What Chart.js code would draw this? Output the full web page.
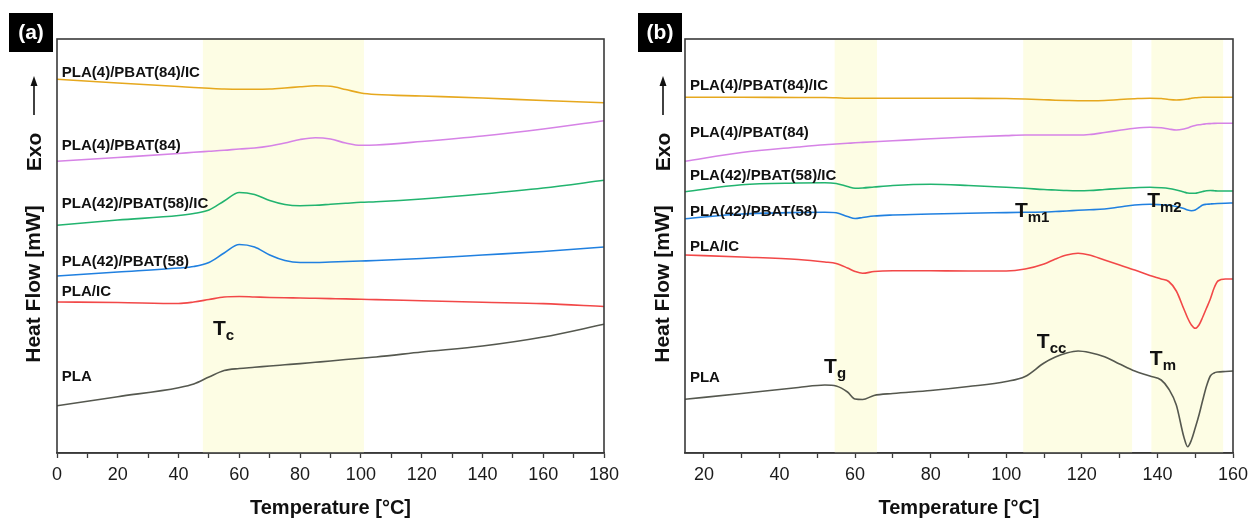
<!DOCTYPE html>
<html>
<head>
<meta charset="utf-8">
<script src="https://cdn.jsdelivr.net/npm/chart.js@4"></script>
<style>
  body { margin: 0; background: #fff; }
  #wrap { position: relative; width: 1249px; height: 523px; }
  canvas { position: absolute; top: 0; }
  #chartA { left: 0; }
  #chartB { left: 620px; }
</style>
</head>
<body>
<div id="wrap">
  <canvas id="chartA" width="620" height="523"></canvas>
  <canvas id="chartB" width="629" height="523"></canvas>
</div>
<script>
// (a) cooling scan, heat flow in arbitrary offset units
const tempA = [0, 20, 40, 45, 50, 55, 60, 65, 70, 75, 80, 85, 90, 95, 100, 105, 120, 140, 160, 180];
const pla4Pbat84IcA = [37.37, 37.0, 36.65, 36.55, 36.47, 36.4, 36.37, 36.37, 36.4, 36.5, 36.62, 36.72, 36.67, 36.35, 36.0, 35.85, 35.7, 35.5, 35.25, 35.03];
const pla4Pbat84A = [29.17, 29.55, 29.95, 30.07, 30.17, 30.27, 30.4, 30.5, 30.7, 31.0, 31.35, 31.53, 31.4, 31.0, 30.77, 30.8, 31.15, 31.7, 32.4, 33.23];
const pla42Pbat58IcA = [22.77, 23.3, 23.75, 23.95, 24.3, 25.2, 26.05, 25.85, 25.25, 24.85, 24.73, 24.77, 24.87, 24.97, 25.07, 25.13, 25.4, 25.9, 26.5, 27.27];
const pla42Pbat58A = [17.7, 18.1, 18.5, 18.65, 19.05, 20.0, 20.85, 20.6, 19.8, 19.25, 19.05, 19.05, 19.1, 19.15, 19.2, 19.25, 19.45, 19.8, 20.15, 20.6];
const plaIcA = [15.1, 15.05, 14.95, 15.1, 15.35, 15.6, 15.65, 15.6, 15.55, 15.52, 15.5, 15.47, 15.44, 15.41, 15.37, 15.34, 15.22, 15.07, 14.94, 14.65];
const plaA = [4.73, 5.63, 6.53, 6.9, 7.6, 8.25, 8.45, 8.57, 8.7, 8.82, 8.94, 9.07, 9.2, 9.35, 9.48, 9.6, 10.1, 10.7, 11.6, 12.87];

// (b) second heating scan
const tempB = [15, 30, 45, 52, 55, 58, 60, 62, 65, 70, 80, 90, 100, 105, 110, 113, 116, 119, 122, 126, 130, 134, 138, 141, 143, 145, 147, 148, 149, 150, 151, 152, 153, 154, 155, 156, 158, 160];
const pla4Pbat84IcB = [35.57, 35.57, 35.55, 35.55, 35.52, 35.48, 35.47, 35.47, 35.47, 35.47, 35.48, 35.47, 35.45, 35.4, 35.33, 35.28, 35.25, 35.23, 35.23, 35.25, 35.35, 35.43, 35.48, 35.45, 35.35, 35.3, 35.35, 35.4, 35.47, 35.52, 35.55, 35.57, 35.57, 35.57, 35.57, 35.57, 35.57, 35.57];
const pla4Pbat84B = [29.17, 30.05, 30.6, 30.83, 30.9, 30.97, 31.02, 31.06, 31.12, 31.22, 31.42, 31.6, 31.74, 31.8, 31.8, 31.8, 31.8, 31.8, 31.85, 32.05, 32.27, 32.47, 32.57, 32.52, 32.4, 32.3, 32.4, 32.5, 32.65, 32.75, 32.82, 32.87, 32.92, 32.94, 32.96, 32.97, 32.97, 32.97];
const pla42Pbat58IcB = [26.13, 26.82, 27.0, 27.03, 26.95, 26.65, 26.47, 26.5, 26.6, 26.75, 26.87, 26.75, 26.57, 26.47, 26.35, 26.3, 26.25, 26.23, 26.25, 26.35, 26.45, 26.53, 26.57, 26.52, 26.45, 26.3, 26.1, 26.0, 25.97, 25.97, 26.05, 26.15, 26.23, 26.25, 26.23, 26.2, 26.2, 26.2];
const pla42Pbat58B = [23.43, 23.9, 24.05, 24.07, 24.02, 23.65, 23.45, 23.55, 23.7, 23.8, 23.9, 23.98, 24.04, 24.07, 24.1, 24.15, 24.2, 24.27, 24.32, 24.4, 24.6, 24.8, 24.87, 24.82, 24.77, 24.65, 24.45, 24.3, 24.23, 24.3, 24.55, 24.8, 24.87, 24.9, 24.93, 24.95, 24.98, 25.0];
const plaIcB = [19.8, 19.6, 19.35, 19.1, 18.95, 18.5, 18.15, 17.97, 18.15, 18.23, 18.22, 18.2, 18.2, 18.4, 18.9, 19.4, 19.8, 19.97, 19.8, 19.3, 18.8, 18.3, 17.75, 17.4, 17.15, 16.2, 14.4, 13.5, 12.8, 12.47, 12.8, 13.6, 14.5, 15.4, 16.5, 17.2, 17.4, 17.4];
const plaB = [5.37, 5.95, 6.55, 6.8, 6.7, 6.1, 5.4, 5.35, 5.75, 5.95, 6.25, 6.65, 7.15, 7.65, 9.0, 9.6, 10.0, 10.2, 10.05, 9.63, 8.9, 8.2, 7.7, 7.3, 6.4, 4.8, 1.6, 0.63, 1.3, 2.5, 3.8, 5.3, 6.7, 7.7, 8.0, 8.1, 8.15, 8.2];

const seriesNames = ['PLA(4)/PBAT(84)/IC', 'PLA(4)/PBAT(84)', 'PLA(42)/PBAT(58)/IC', 'PLA(42)/PBAT(58)', 'PLA/IC', 'PLA'];
const seriesColors = ['#e6a81e', '#d683e6', '#22b46f', '#2080e0', '#f24848', '#55584f'];

const bandsA = [[48, 101]];
const bandsB = [[54.6, 65.8], [104.5, 133.3], [138.4, 157.4]];

Chart.defaults.font.family = '"Liberation Sans", Arial, sans-serif';
Chart.defaults.color = '#1a1a1a';

const pts = (xs, ys) => xs.map((x, i) => ({ x, y: ys[i] }));

function makeDatasets(xs, list) {
  return list.map((ys, i) => ({
    label: seriesNames[i],
    data: pts(xs, ys),
    borderColor: seriesColors[i],
    borderWidth: 1.6,
    pointRadius: 0,
    fill: false,
    cubicInterpolationMode: 'monotone'
  }));
}

// bands, frame, labels, y title and panel tag
const decor = {
  id: 'decor',
  beforeDatasetsDraw(chart, args, opts) {
    const { ctx, chartArea: ca, scales: { x } } = chart;
    ctx.save();
    ctx.fillStyle = '#fdfde4';
    opts.bands.forEach(([a, b]) => {
      const x0 = x.getPixelForValue(a), x1 = x.getPixelForValue(b);
      ctx.fillRect(x0, ca.top, x1 - x0, ca.bottom - ca.top);
    });
    ctx.restore();
  },
  afterDraw(chart, args, opts) {
    const { ctx, chartArea: ca, scales: { x, y } } = chart;
    ctx.save();

    ctx.strokeStyle = '#3a3a3a';
    ctx.lineWidth = 1.6;
    ctx.strokeRect(ca.left, ca.top, ca.right - ca.left, ca.bottom - ca.top);

    ctx.fillStyle = '#111';
    ctx.font = 'bold 15px "Liberation Sans"';
    ctx.textAlign = 'left';
    ctx.textBaseline = 'middle';
    opts.labels.forEach(l => {
      ctx.fillText(l.text, x.getPixelForValue(l.x), y.getPixelForValue(l.y));
    });

    ctx.textBaseline = 'alphabetic';
    opts.temps.forEach(t => {
      const px = x.getPixelForValue(t.x), py = y.getPixelForValue(t.y);
      ctx.font = 'bold 21px "Liberation Sans"';
      ctx.fillText('T', px, py);
      const w = ctx.measureText('T').width;
      ctx.font = 'bold 15px "Liberation Sans"';
      ctx.fillText(t.sub, px + w, py + 5);
    });

    // y title with Exo arrow
    const cx = opts.titleX, cy = 284;
    ctx.translate(cx, cy);
    ctx.rotate(-Math.PI / 2);
    ctx.font = 'bold 21px "Liberation Sans"';
    ctx.textAlign = 'center';
    ctx.textBaseline = 'middle';
    ctx.fillText('Heat Flow [mW]', 0, 0);
    ctx.fillText('Exo', cy - 152, 1);
    ctx.strokeStyle = '#111';
    ctx.lineWidth = 1.6;
    ctx.beginPath();
    ctx.moveTo(cy - 115, 0);
    ctx.lineTo(cy - 82, 0);
    ctx.stroke();
    ctx.beginPath();
    ctx.moveTo(cy - 76, 0);
    ctx.lineTo(cy - 86, -3.5);
    ctx.lineTo(cy - 86, 3.5);
    ctx.closePath();
    ctx.fill();
    ctx.setTransform(1, 0, 0, 1, 0, 0);

    // panel tag
    ctx.fillStyle = '#000';
    ctx.fillRect(opts.tagX, 13, 44, 39);
    ctx.fillStyle = '#fff';
    ctx.font = 'bold 21px "Liberation Sans"';
    ctx.textAlign = 'center';
    ctx.textBaseline = 'middle';
    ctx.fillText(opts.tag, opts.tagX + 22, 33);
    ctx.restore();
  }
};

function makeOptions(xMin, xMax, pad, deco) {
  return {
    responsive: false,
    animation: false,
    devicePixelRatio: 1,
    layout: { padding: pad },
    plugins: { legend: { display: false }, tooltip: { enabled: false }, decor: deco },
    scales: {
      x: {
        type: 'linear',
        min: xMin,
        max: xMax,
        afterFit: (scale) => {
          scale.height = 70;
          scale.paddingLeft = 0;
          scale.paddingRight = 0;
        },
        ticks: {
          stepSize: 10,
          includeBounds: false,
          autoSkip: false,
          maxRotation: 0,
          padding: 6,
          color: '#1a1a1a',
          font: { size: 18 },
          callback: (v) => (v % 20 === 0 ? v : '')
        },
        grid: { drawOnChartArea: false, drawTicks: true, tickLength: 5, tickColor: '#3a3a3a', tickWidth: 1.3 },
        border: { display: true, color: '#3a3a3a', width: 1.6 },
        title: { display: true, text: 'Temperature [°C]', color: '#111', font: { size: 20, weight: 'bold' }, padding: { top: 0, bottom: 3 } }
      },
      y: { display: false, min: 0, max: 41.4 }
    }
  };
}

new Chart(document.getElementById('chartA'), {
  type: 'line',
  data: { datasets: makeDatasets(tempA, [pla4Pbat84IcA, pla4Pbat84A, pla42Pbat58IcA, pla42Pbat58A, plaIcA, plaA]) },
  options: makeOptions(0, 180, { left: 57, top: 39, right: 16, bottom: 0 }, {
    bands: bandsA,
    titleX: 34,
    tagX: 9,
    tag: '(a)',
    labels: [
      { text: seriesNames[0], x: 1.6, y: 38.0 },
      { text: seriesNames[1], x: 1.6, y: 30.7 },
      { text: seriesNames[2], x: 1.6, y: 24.9 },
      { text: seriesNames[3], x: 1.6, y: 19.1 },
      { text: seriesNames[4], x: 1.6, y: 16.1 },
      { text: seriesNames[5], x: 1.6, y: 7.6 }
    ],
    temps: [{ sub: 'c', x: 51.3, y: 11.8 }]
  }),
  plugins: [decor]
});

new Chart(document.getElementById('chartB'), {
  type: 'line',
  data: { datasets: makeDatasets(tempB, [pla4Pbat84IcB, pla4Pbat84B, pla42Pbat58IcB, pla42Pbat58B, plaIcB, plaB]) },
  options: makeOptions(15, 160, { left: 65, top: 39, right: 16, bottom: 0 }, {
    bands: bandsB,
    titleX: 43,
    tagX: 18,
    tag: '(b)',
    labels: [
      { text: seriesNames[0], x: 16.3, y: 36.7 },
      { text: seriesNames[1], x: 16.3, y: 32.0 },
      { text: seriesNames[2], x: 16.3, y: 27.7 },
      { text: seriesNames[3], x: 16.3, y: 24.1 },
      { text: seriesNames[4], x: 16.3, y: 20.6 },
      { text: seriesNames[5], x: 16.3, y: 7.5 }
    ],
    temps: [
      { sub: 'm1', x: 102.3, y: 23.6 },
      { sub: 'm2', x: 137.3, y: 24.6 },
      { sub: 'g', x: 51.8, y: 8.0 },
      { sub: 'cc', x: 108.1, y: 10.5 },
      { sub: 'm', x: 138.0, y: 8.8 }
    ]
  }),
  plugins: [decor]
});
</script>
</body>
</html>
